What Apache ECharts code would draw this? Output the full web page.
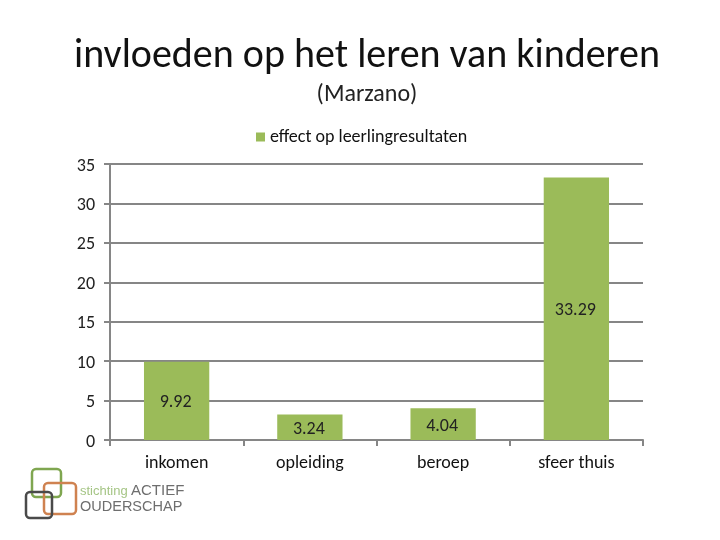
<!DOCTYPE html>
<html><head><meta charset="utf-8">
<style>html,body{margin:0;padding:0;background:#fff}#c{width:720px;height:540px}</style>
<script src="https://cdn.jsdelivr.net/npm/echarts@6/dist/echarts.min.js"></script></head>
<body><div id="c"></div>
<script>
const categories=["inkomen","opleiding","beroep","sfeer thuis"];
const values=[9.92,3.24,4.04,33.29];
const seriesName="effect op leerlingresultaten";
const titleText="invloeden op het leren van kinderen";
const subtitleText="(Marzano)";
const logoLine1a="stichting";
const logoLine1b="ACTIEF";
const logoLine2="OUDERSCHAP";
const font="Carlito, 'Open Sans', 'Noto Sans', sans-serif";
const logoFont="'Liberation Sans', Arial, sans-serif";
const grey='#868686';
const box=(x,y,w,h,color)=>({type:'rect',shape:{x,y,width:w,height:h,r:4},style:{fill:'none',stroke:color,lineWidth:2.5}});
const txt=(x,y,text,size,color)=>({type:'text',x,y,style:{text,fontSize:size,fill:color,fontFamily:logoFont,textVerticalAlign:'bottom'}});
const chart=echarts.init(document.getElementById('c'),null,{renderer:'canvas'});
chart.setOption({
 animation:false,
 title:[{text:titleText,left:362,top:32,textAlign:'center',textStyle:{fontSize:40,fontWeight:'normal',color:'#111',fontFamily:font}},
 {text:subtitleText,left:362,top:78,textAlign:'center',textStyle:{fontSize:24,fontWeight:'normal',color:'#222',fontFamily:font}}],
 legend:{top:123,left:251,itemWidth:9,itemHeight:9,itemGap:5,icon:'rect',textStyle:{fontSize:18,color:'#111',fontFamily:font},data:[seriesName]},
 grid:{left:110,right:77,top:164,bottom:100},
 xAxis:{type:'category',data:categories,axisTick:{show:true,length:6,lineStyle:{color:grey,width:2}},axisLine:{lineStyle:{color:grey,width:2}},axisLabel:{fontSize:18,color:'#111',margin:14,fontFamily:font}},
 yAxis:{type:'value',min:0,max:35,interval:5,axisLine:{show:true,lineStyle:{color:grey,width:2}},axisTick:{show:true,length:6,lineStyle:{color:grey,width:2}},splitLine:{lineStyle:{color:grey,width:2}},axisLabel:{margin:15,formatter:'{a|{value}}',rich:{a:{fontSize:18,color:'#222',padding:[4,0,0,0],fontFamily:font}}}},
 series:[{name:seriesName,type:'bar',data:values,barWidth:'49%',itemStyle:{color:'#9BBB59'},label:{show:true,position:'inside',offset:[-1,2],fontSize:18,color:'#222',fontFamily:font,formatter:p=>p.value.toFixed(2)}}],
 graphic:[
  box(32,469,29,28,'#7FA650'),
  box(44,483,32,31,'#CF8250'),
  box(26,492,26,26,'#4A4A4A'),
  txt(80,498,logoLine1a,13,'#A5C585'),
  txt(131,498,logoLine1b,15,'#6E6E6E'),
  txt(80,514,logoLine2,14.5,'#6E6E6E')
 ]
});
</script></body></html>
